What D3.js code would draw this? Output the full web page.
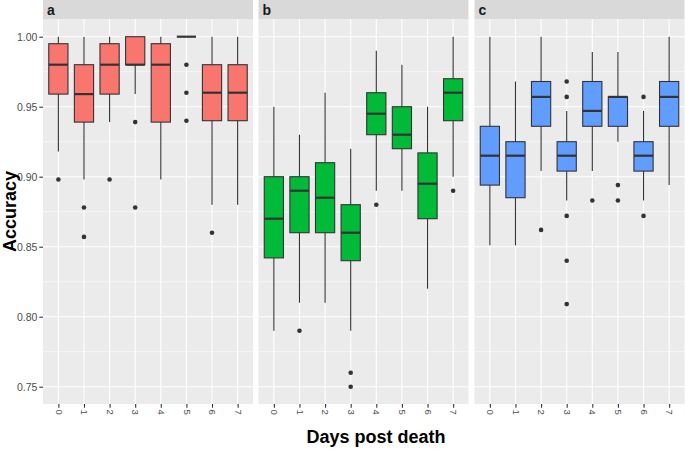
<!DOCTYPE html>
<html><head><meta charset="utf-8">
<script src="https://cdn.jsdelivr.net/npm/d3@7"></script>
<style>body{margin:0;background:#fff}svg{display:block}text{font-family:"Liberation Sans",Arial,sans-serif}</style>
</head><body>
<svg id="chart" width="685" height="449"></svg>
<script>
const days = ["0","1","2","3","4","5","6","7"];
const panelLabels = ["a","b","c"];
const panelColors = ["#F8766D","#00BA38","#619CFF"];
const yTicks = [0.75,0.80,0.85,0.90,0.95,1.00];
const yMinor = [0.775,0.825,0.875,0.925,0.975];

// panel a
const aLo  = [0.918,0.898,0.939,0.959,0.898,1.0,0.88,0.88];
const aQ1  = [0.959,0.939,0.959,0.980,0.939,1.0,0.94,0.94];
const aMed = [0.980,0.959,0.980,0.980,0.980,1.0,0.96,0.96];
const aQ3  = [0.995,0.980,0.995,1.000,0.995,1.0,0.98,0.98];
const aHi  = [1,1,1,1,1,1,1,1];
const aOut = [[0.898],[0.878,0.857],[0.898],[0.939,0.878],[],[0.98,0.96,0.94],[0.86],[]];
// panel b
const bLo  = [0.79,0.81,0.81,0.79,0.89,0.89,0.82,0.90];
const bQ1  = [0.842,0.86,0.86,0.84,0.93,0.92,0.87,0.94];
const bMed = [0.87,0.89,0.885,0.86,0.945,0.93,0.895,0.96];
const bQ3  = [0.90,0.90,0.91,0.88,0.96,0.95,0.917,0.97];
const bHi  = [0.95,0.93,0.96,0.92,0.99,0.98,0.95,1.0];
const bOut = [[],[0.79],[],[0.76,0.75],[0.88],[],[],[0.89]];
// panel c
const cLo  = [0.851,0.851,0.904,0.883,0.904,0.925,0.883,0.894];
const cQ1  = [0.894,0.885,0.936,0.904,0.936,0.936,0.904,0.936];
const cMed = [0.915,0.915,0.957,0.915,0.947,0.957,0.915,0.957];
const cQ3  = [0.936,0.925,0.968,0.925,0.968,0.957,0.925,0.968];
const cHi  = [1.0,0.968,1.0,0.947,0.989,0.989,0.947,1.0];
const cOut = [[],[],[0.862],[0.968,0.957,0.872,0.84,0.809],[0.883],[0.894,0.883],[0.957,0.872],[]];

const panels = [
  {lo:aLo,q1:aQ1,med:aMed,q3:aQ3,hi:aHi,out:aOut},
  {lo:bLo,q1:bQ1,med:bMed,q3:bQ3,hi:bHi,out:bOut},
  {lo:cLo,q1:cQ1,med:cMed,q3:cQ3,hi:cHi,out:cOut}
];
const panelX = [[43,253],[258.5,468.5],[474.5,684.5]];
const stripTop = 0, panelTop = 19, panelBottom = 404;

const svg = d3.select("#chart");
const y = d3.scaleLinear().domain([0.75,1.0]).range([386.7,36.7]);

panels.forEach((p,pi)=>{
  const [x0,x1] = panelX[pi];
  const x = d3.scalePoint().domain(days).range([x0,x1]).padding(0.6);
  const bw = x.step()*0.75;
  const g = svg.append("g");
  g.append("rect").attr("x",x0).attr("y",stripTop).attr("width",x1-x0).attr("height",panelTop-stripTop).attr("fill","#D9D9D9");
  g.append("text").attr("x",x0+4).attr("y",15).attr("font-size",14).attr("font-weight","bold").attr("fill","#1a1a1a").text(panelLabels[pi]);
  g.append("rect").attr("x",x0).attr("y",panelTop).attr("width",x1-x0).attr("height",panelBottom-panelTop).attr("fill","#EBEBEB");
  g.selectAll(".minor").data(yMinor).join("line").attr("x1",x0).attr("x2",x1)
    .attr("y1",d=>y(d)).attr("y2",d=>y(d)).attr("stroke","#fff").attr("stroke-width",0.55);
  g.selectAll(".major").data(yTicks).join("line").attr("x1",x0).attr("x2",x1)
    .attr("y1",d=>y(d)).attr("y2",d=>y(d)).attr("stroke","#fff").attr("stroke-width",1.1);
  g.selectAll(".vmajor").data(days).join("line").attr("x1",d=>x(d)).attr("x2",d=>x(d))
    .attr("y1",panelTop).attr("y2",panelBottom).attr("stroke","#fff").attr("stroke-width",1.1);

  days.forEach((d,i)=>{
    const cx = x(d);
    g.append("line").attr("x1",cx).attr("x2",cx).attr("y1",y(p.q3[i])).attr("y2",y(p.hi[i])).attr("stroke","#333").attr("stroke-width",1.1);
    g.append("line").attr("x1",cx).attr("x2",cx).attr("y1",y(p.q1[i])).attr("y2",y(p.lo[i])).attr("stroke","#333").attr("stroke-width",1.1);
    g.append("rect").attr("x",cx-bw/2).attr("width",bw).attr("y",y(p.q3[i])).attr("height",Math.max(0,y(p.q1[i])-y(p.q3[i])))
      .attr("fill",panelColors[pi]).attr("stroke","#333").attr("stroke-width",1.1);
    g.append("line").attr("x1",cx-bw/2).attr("x2",cx+bw/2).attr("y1",y(p.med[i])).attr("y2",y(p.med[i])).attr("stroke","#333").attr("stroke-width",2.2);
    p.out[i].forEach(v=>{
      g.append("circle").attr("cx",cx).attr("cy",y(v)).attr("r",2.3).attr("fill","#333");
    });
  });

  // x axis
  const xa = g.append("g").attr("transform",`translate(0,${panelBottom})`).call(d3.axisBottom(x).tickSize(3.7).tickSizeOuter(0));
  xa.select(".domain").remove();
  xa.selectAll(".tick line").attr("stroke","#333").attr("stroke-width",1.1);
  xa.selectAll(".tick text").attr("fill","#4D4D4D").attr("font-size",9.5).attr("font-family","Liberation Sans, Arial, sans-serif")
    .attr("transform","rotate(90)").attr("x",5.5).attr("y",0).attr("dy","0.35em").attr("text-anchor","start");

  if(pi===0){
    const ya = g.append("g").attr("transform",`translate(${x0},0)`).call(d3.axisLeft(y).tickValues(yTicks).tickFormat(d3.format(".2f")).tickSize(3.7).tickPadding(2));
    ya.select(".domain").remove();
    ya.selectAll(".tick line").attr("stroke","#333").attr("stroke-width",1.1);
    ya.selectAll(".tick text").attr("fill","#4D4D4D").attr("font-size",10.5).attr("font-family","Liberation Sans, Arial, sans-serif");
  }
});

svg.append("text").attr("transform","translate(16,211.5) rotate(-90)").attr("text-anchor","middle")
  .attr("font-size",18).attr("font-weight","bold").attr("fill","#000").text("Accuracy");
svg.append("text").attr("x",376).attr("y",443).attr("text-anchor","middle")
  .attr("font-size",18).attr("font-weight","bold").attr("fill","#000").text("Days post death");
</script>
</body></html>
